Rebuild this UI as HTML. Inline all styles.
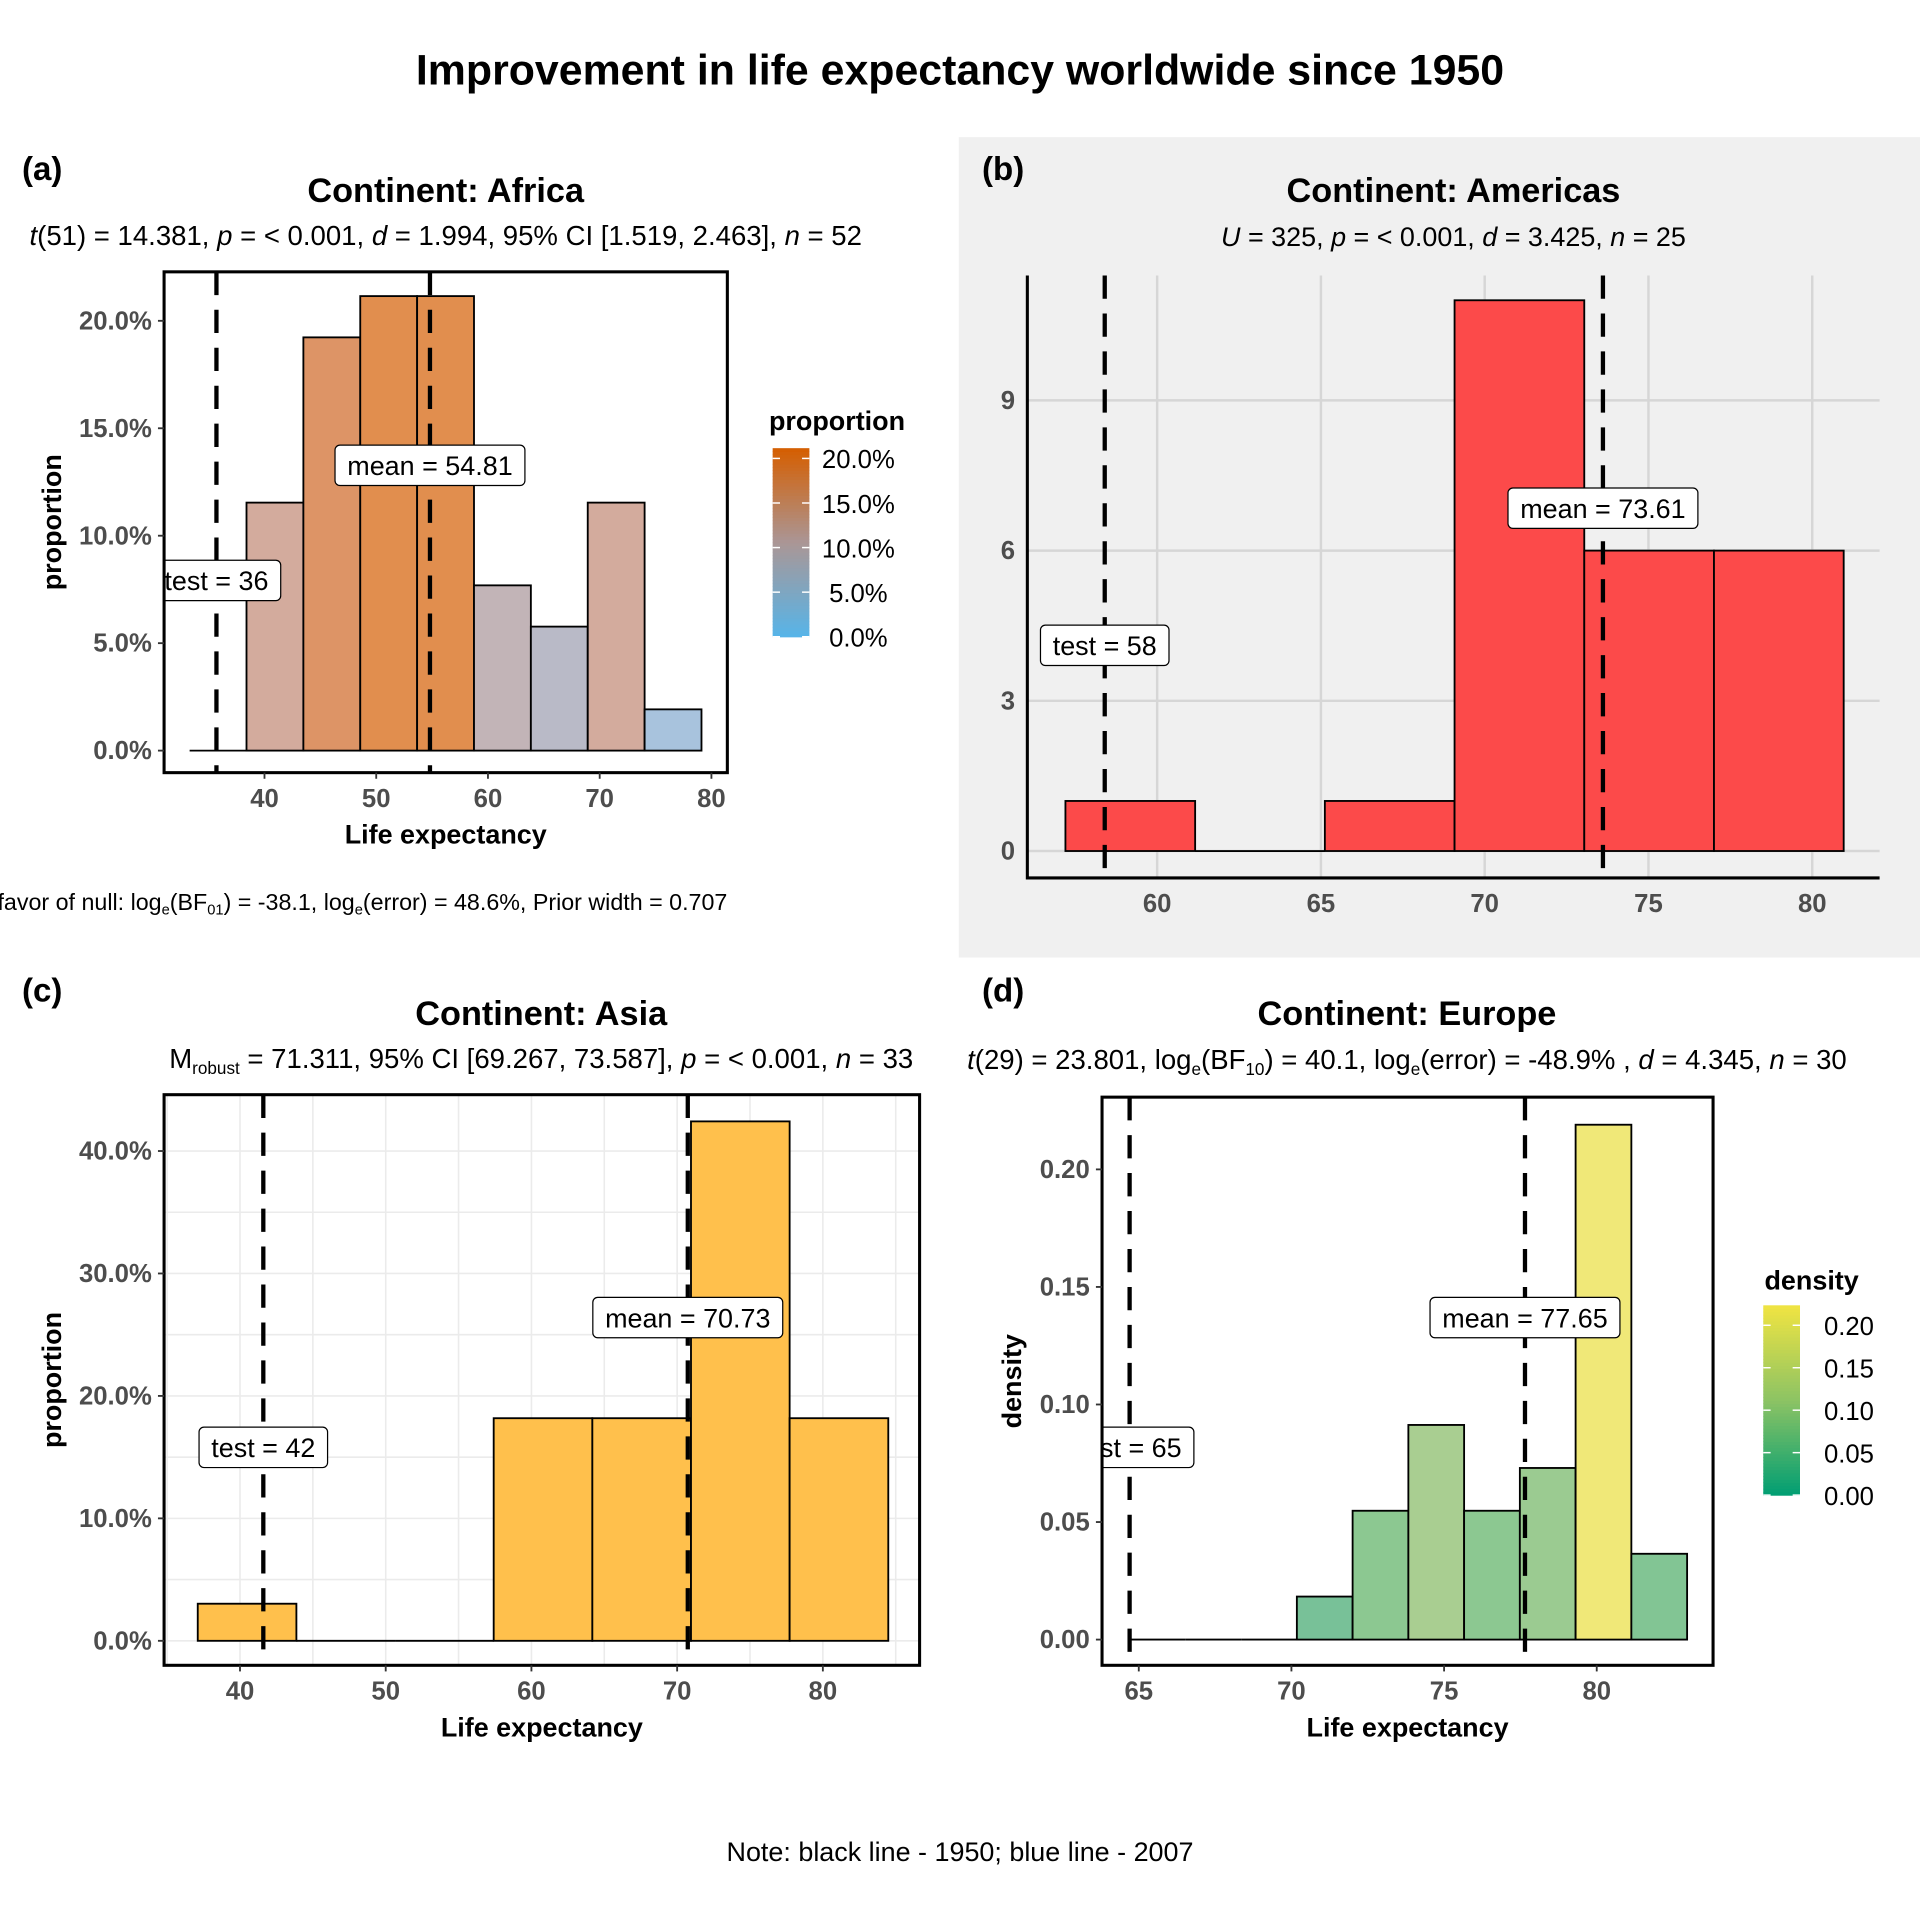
<!DOCTYPE html>
<html><head><meta charset="utf-8">
<style>
html,body{margin:0;padding:0;background:#fff;}
svg{display:block;font-family:"Liberation Sans",Arial,sans-serif;}
</style></head>
<body>
<svg id="chart" width="1920" height="1920" viewBox="0 0 1568 1568" xmlns="http://www.w3.org/2000/svg">
<rect x="0" y="0" width="1568" height="1568" fill="#fff"/>
<rect x="783" y="112" width="785" height="670" fill="#f0f0f0"/>
<text x="784" y="69" text-anchor="middle" font-size="35" font-weight="bold">Improvement in life expectancy worldwide since 1950</text>
<text x="18" y="147" font-size="27" font-weight="bold">(a)</text>
<text x="802" y="147" font-size="27" font-weight="bold">(b)</text>
<text x="18" y="818" font-size="27" font-weight="bold">(c)</text>
<text x="802" y="818" font-size="27" font-weight="bold">(d)</text>

<text x="364" y="165" text-anchor="middle" font-size="28" font-weight="bold">Continent: Africa</text>
<text x="364" y="200" text-anchor="middle" font-size="22.5"><tspan font-style="italic">t</tspan>(51) = 14.381, <tspan font-style="italic">p</tspan> = &lt; 0.001, <tspan font-style="italic">d</tspan> = 1.994, 95% CI [1.519, 2.463], <tspan font-style="italic">n</tspan> = 52</text>
<text x="594" y="743" text-anchor="end" font-size="19">In favor of null: log<tspan font-size="12" dy="4">e</tspan><tspan dy="-4">(BF</tspan><tspan font-size="12" dy="4">01</tspan><tspan dy="-4">) = -38.1, log</tspan><tspan font-size="12" dy="4">e</tspan><tspan dy="-4">(error) = 48.6%, Prior width = 0.707</tspan></text>

<text x="1187" y="165" text-anchor="middle" font-size="28" font-weight="bold">Continent: Americas</text>
<text x="1187" y="201" text-anchor="middle" font-size="22"><tspan font-style="italic">U</tspan> = 325, <tspan font-style="italic">p</tspan> = &lt; 0.001, <tspan font-style="italic">d</tspan> = 3.425, <tspan font-style="italic">n</tspan> = 25</text>

<text x="442" y="837" text-anchor="middle" font-size="28" font-weight="bold">Continent: Asia</text>
<text x="442" y="872" text-anchor="middle" font-size="22.5">M<tspan font-size="14" dy="5">robust</tspan><tspan dy="-5"> = 71.311, 95% CI [69.267, 73.587], </tspan><tspan font-style="italic">p</tspan> = &lt; 0.001, <tspan font-style="italic">n</tspan> = 33</text>

<text x="1149" y="837" text-anchor="middle" font-size="28" font-weight="bold">Continent: Europe</text>
<text x="1149" y="873" text-anchor="middle" font-size="22.5"><tspan font-style="italic">t</tspan>(29) = 23.801, log<tspan font-size="14" dy="5">e</tspan><tspan dy="-5">(BF</tspan><tspan font-size="14" dy="5">10</tspan><tspan dy="-5">) = 40.1, log</tspan><tspan font-size="14" dy="5">e</tspan><tspan dy="-5">(error) = -48.9% , </tspan><tspan font-style="italic">d</tspan> = 4.345, <tspan font-style="italic">n</tspan> = 30</text>

<text x="784" y="1520" text-anchor="middle" font-size="22">Note: black line - 1950; blue line - 2007</text>

<g id="layer"></g>
</svg>
<script>
// Panel A (Africa) - proportion
const aStart = 33.3, aWidth = 5.09;
const aValues = [0, 11.54, 19.23, 21.15, 21.15, 7.69, 5.77, 11.54, 1.92];
const aXTicks = [40, 50, 60, 70, 80];
const aYTicks = [0, 5, 10, 15, 20];
const aTest = 35.7, aMean = 54.81;
// Panel B (Americas) - count
const bStart = 57.2, bWidth = 3.96;
const bValues = [1, 0, 1, 11, 6, 6];
const bXTicks = [60, 65, 70, 75, 80];
const bYTicks = [0, 3, 6, 9];
const bTest = 58.4, bMean = 73.61;
// Panel C (Asia) - proportion
const cStart = 37.1, cWidth = 6.77;
const cValues = [3.03, 0, 0, 18.18, 18.18, 42.42, 18.18];
const cXTicks = [40, 50, 60, 70, 80];
const cYTicks = [0, 10, 20, 30, 40];
const cTest = 41.6, cMean = 70.73;
// Panel D (Europe) - density
const dStart = 64.7, dWidth = 1.826;
const dValues = [0, 0, 0, 0.0183, 0.0548, 0.0913, 0.0548, 0.073, 0.219, 0.0365];
const dXTicks = [65, 70, 75, 80];
const dYTicks = [0, 0.05, 0.10, 0.15, 0.20];
const dTest = 64.7, dMean = 77.65;
const aLegendTicks = [0, 5, 10, 15, 20];
const dLegendTicks = [0, 0.05, 0.10, 0.15, 0.20];

const NS = 'http://www.w3.org/2000/svg';
const layer = document.getElementById('layer');
function mk(tag, attrs, parent) {
  const e = document.createElementNS(NS, tag);
  for (const k in attrs) e.setAttribute(k, attrs[k]);
  (parent || layer).appendChild(e);
  return e;
}
function lin(d0, d1, r0, r1) { return v => r0 + (v - d0) * (r1 - r0) / (d1 - d0); }
function lerpColor(stops, t) {
  t = Math.max(0, Math.min(1, t));
  for (let i = 0; i < stops.length - 1; i++) {
    const [t0, c0] = stops[i], [t1, c1] = stops[i + 1];
    if (t <= t1) {
      const f = (t - t0) / (t1 - t0);
      const c = c0.map((v, j) => Math.round(v + (c1[j] - v) * f));
      return 'rgb(' + c.join(',') + ')';
    }
  }
  return 'rgb(' + stops[stops.length - 1][1].join(',') + ')';
}
const aStops = [[0, [160, 200, 232]], [0.27, [185, 186, 200]], [0.36, [194, 180, 184]], [0.54, [211, 171, 158]], [0.9, [221, 149, 104]], [1, [225, 142, 78]]];
const aLegStops = [[0, [86, 180, 233]], [0.5, [170, 150, 150]], [1, [213, 94, 0]]];
const dStops = [[0, [110, 190, 155]], [0.25, [140, 200, 145]], [0.42, [170, 206, 145]], [1, [240, 232, 120]]];
const dLegStops = [[0, [0, 158, 115]], [0.5, [140, 195, 100]], [1, [240, 228, 66]]];

function tickLabel(x, y, txt, anchor, name) {
  const t = mk('text', {x: x, y: y, 'text-anchor': anchor, 'font-size': 21, 'font-weight': 'bold', fill: '#4d4d4d'});
  
  
  t.textContent = txt;
  return t;
}
function labelBox(cx, cy, txt, name, clipLeft) {
  const g = mk('g', {});
  
  
  const rect = mk('rect', {x: cx - 50, y: cy - 16.5, width: 100, height: 33, rx: 4, fill: '#fff', stroke: '#000', 'stroke-width': 1}, g);
  const t = mk('text', {x: cx, y: cy + 8, 'text-anchor': 'middle', 'font-size': 22}, g);
  t.textContent = txt;
  let w = 0;
  try { w = t.getComputedTextLength(); } catch (e) { w = txt.length * 10.5; }
  if (!w) w = txt.length * 10.5;
  w += 20;
  rect.setAttribute('x', cx - w / 2);
  rect.setAttribute('width', w);
  if (clipLeft !== undefined) {
    const id = 'clip' + name;
    const cp = mk('clipPath', {id: id});
    mk('rect', {x: clipLeft, y: cy - 30, width: 400, height: 60}, cp);
    g.setAttribute('clip-path', 'url(#' + id + ')');
  }
}
function vdash(x, y0, y1, name) {
  const l = mk('line', {x1: x, x2: x, y1: y0, y2: y1, stroke: '#000', 'stroke-width': 3.5, 'stroke-dasharray': '19 12'});
  
  
}

function panel(cfg) {
  const X = lin(cfg.xd[0], cfg.xd[1], cfg.xr[0], cfg.xr[1]);
  const Y = lin(cfg.yd[0], cfg.yd[1], cfg.yr[0], cfg.yr[1]);
  const p = cfg.p;
  if (cfg.grid) {
    cfg.grid.x.forEach(v => { const l = mk('line', {x1: X(v), x2: X(v), y1: p.y0, y2: p.y1, stroke: cfg.grid.color, 'stroke-width': cfg.grid.w});   });
    cfg.grid.y.forEach(v => { const l = mk('line', {x1: p.x0, x2: p.x1, y1: Y(v), y2: Y(v), stroke: cfg.grid.color, 'stroke-width': cfg.grid.w});   });
  }
  cfg.values.forEach((v, i) => {
    const x0 = X(cfg.start + i * cfg.width), x1 = X(cfg.start + (i + 1) * cfg.width);
    if (v === 0) {
      const l = mk('line', {x1: x0, x2: x1, y1: Y(0), y2: Y(0), stroke: '#000', 'stroke-width': 1.5});
      
      
      return;
    }
    const r = mk('rect', {x: x0, y: Y(v), width: x1 - x0, height: Y(0) - Y(v), fill: cfg.fill(v), stroke: '#000', 'stroke-width': 1.5});
    
    
  });
  vdash(X(cfg.test), p.y0, p.y1, cfg.name + '-test-line');
  vdash(X(cfg.mean), p.y0, p.y1, cfg.name + '-mean-line');
  labelBox(X(cfg.mean), cfg.meanLabelY, 'mean = ' + cfg.meanText, cfg.name + '-mean-label');
  labelBox(X(cfg.test) + (cfg.testShift || 0), cfg.testLabelY, 'test = ' + cfg.testText, cfg.name + '-test-label', cfg.clipLeft);
  if (cfg.box) {
    const b = mk('rect', {x: p.x0, y: p.y0, width: p.x1 - p.x0, height: p.y1 - p.y0, fill: 'none', stroke: '#000', 'stroke-width': 2.5});
    
    
  } else {
    const ax = mk('path', {d: `M${p.x0},${p.y0} V${p.y1} H${p.x1}`, fill: 'none', stroke: '#000', 'stroke-width': 2.5});
    
    
  }
  cfg.xTicks.forEach(v => {
    if (cfg.box) mk('line', {x1: X(v), x2: X(v), y1: p.y1, y2: p.y1 + 5, stroke: '#333', 'stroke-width': 1.5});
    tickLabel(X(v), p.y1 + 28, String(v), 'middle', cfg.name + '-x-tick-' + v);
  });
  cfg.yTicks.forEach(v => {
    if (cfg.box) mk('line', {x1: p.x0 - 5, x2: p.x0, y1: Y(v), y2: Y(v), stroke: '#333', 'stroke-width': 1.5});
    tickLabel(p.x0 - 10, Y(v) + 7, cfg.yFmt(v), 'end', cfg.name + '-y-tick-' + v);
  });
  if (cfg.xTitle) {
    const t = mk('text', {x: (p.x0 + p.x1) / 2, y: p.y1 + 58, 'text-anchor': 'middle', 'font-size': 22, 'font-weight': 'bold'});
    
    
    t.textContent = cfg.xTitle;
  }
  if (cfg.yTitle) {
    const cy = (p.y0 + p.y1) / 2;
    const t = mk('text', {x: cfg.yTitleX, y: cy, 'text-anchor': 'middle', 'font-size': 22, 'font-weight': 'bold', transform: `rotate(-90 ${cfg.yTitleX} ${cy})`});
    
    
    t.textContent = cfg.yTitle;
  }
}

function legend(name, title, tx, ty, bx, by0, by1, maxV, ticks, stops, fmt) {
  const g = mk('g', {});
  
  
  const t = mk('text', {x: tx, y: ty, 'font-size': 22, 'font-weight': 'bold'}, g);
  t.textContent = title;
  const L = lin(0, maxV, by1, by0);
  const n = 60;
  for (let i = 0; i < n; i++) {
    const v0 = maxV * i / n, v1 = maxV * (i + 1) / n;
    mk('rect', {x: bx, y: L(v1), width: 30, height: L(v0) - L(v1) + 0.5, fill: lerpColor(stops, (v0 + v1) / 2 / maxV)}, g);
  }
  ticks.forEach(v => {
    mk('line', {x1: bx, x2: bx + 6, y1: L(v), y2: L(v), stroke: '#fff', 'stroke-width': 1.2}, g);
    mk('line', {x1: bx + 24, x2: bx + 30, y1: L(v), y2: L(v), stroke: '#fff', 'stroke-width': 1.2}, g);
    const tt = mk('text', {x: bx + 70, y: L(v) + 8, 'font-size': 21, 'text-anchor': 'middle'}, g);
    tt.textContent = fmt(v);
  });
}

const pct = v => v.toFixed(1) + '%';
const aMax = Math.max(...aValues);
const dMax = Math.max(...dValues);

panel({name: 'panel-a', p: {x0: 134, x1: 594, y0: 222, y1: 631},
  xd: [40, 80], xr: [216, 581], yd: [0, 20], yr: [613, 262],
  values: aValues, start: aStart, width: aWidth,
  fill: v => lerpColor(aStops, v / aMax),
  test: aTest, mean: aMean, meanText: '54.81', testText: '36',
  meanLabelY: 380, testLabelY: 474, testShift: 0, clipLeft: 134,
  box: true, xTicks: aXTicks, yTicks: aYTicks, yFmt: pct,
  xTitle: 'Life expectancy', yTitle: 'proportion', yTitleX: 50});

panel({name: 'panel-b', p: {x0: 839, x1: 1535, y0: 225, y1: 717},
  xd: [60, 80], xr: [945, 1480], yd: [0, 9], yr: [695, 327],
  grid: {x: bXTicks, y: bYTicks, color: '#d6d6d6', w: 2},
  values: bValues, start: bStart, width: bWidth,
  fill: v => '#fc4a4a',
  test: bTest, mean: bMean, meanText: '73.61', testText: '58',
  meanLabelY: 415, testLabelY: 527,
  box: false, xTicks: bXTicks, yTicks: bYTicks, yFmt: v => String(v)});

panel({name: 'panel-c', p: {x0: 134, x1: 751, y0: 894, y1: 1360},
  xd: [40, 80], xr: [196, 672], yd: [0, 40], yr: [1340, 940],
  grid: {x: [35, 40, 45, 50, 55, 60, 65, 70, 75, 80, 85], y: [0, 5, 10, 15, 20, 25, 30, 35, 40], color: '#ebebeb', w: 1.3},
  values: cValues, start: cStart, width: cWidth,
  fill: v => '#ffc04c',
  test: cTest, mean: cMean, meanText: '70.73', testText: '42',
  meanLabelY: 1076, testLabelY: 1182,
  box: true, xTicks: cXTicks, yTicks: cYTicks, yFmt: pct,
  xTitle: 'Life expectancy', yTitle: 'proportion', yTitleX: 50});

panel({name: 'panel-d', p: {x0: 900, x1: 1399, y0: 896, y1: 1360},
  xd: [65, 80], xr: [930, 1304], yd: [0, 0.2], yr: [1339, 955],
  values: dValues, start: dStart, width: dWidth,
  fill: v => lerpColor(dStops, v / dMax),
  test: dTest, mean: dMean, meanText: '77.65', testText: '65',
  meanLabelY: 1076, testLabelY: 1182, testShift: 0, clipLeft: 900,
  box: true, xTicks: dXTicks, yTicks: dYTicks, yFmt: v => v.toFixed(2),
  xTitle: 'Life expectancy', yTitle: 'density', yTitleX: 834});

legend('panel-a-legend', 'proportion', 628, 351, 631, 366, 520, aMax, aLegendTicks, aLegStops, pct);
legend('panel-d-legend', 'density', 1441, 1053, 1440, 1066, 1221, 0.2235, dLegendTicks, dLegStops, v => v.toFixed(2));
</script>
</body></html>
